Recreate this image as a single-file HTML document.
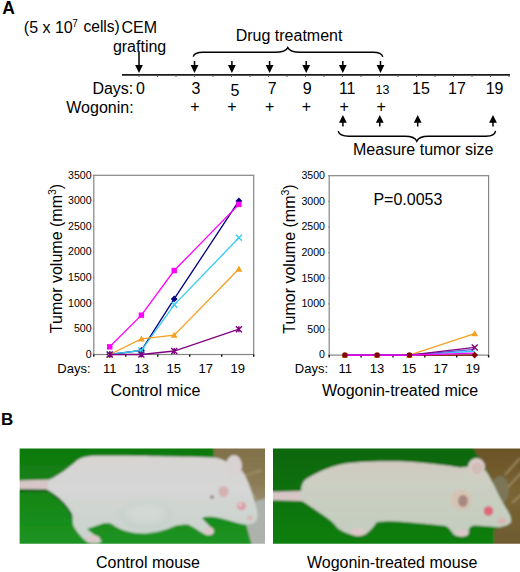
<!DOCTYPE html>
<html><head><meta charset="utf-8">
<style>
html,body{margin:0;padding:0;background:#fff;overflow:hidden;}
svg{display:block;}
text{font-family:"Liberation Sans",sans-serif;fill:#000;}
</style></head>
<body>
<svg width="520" height="572" viewBox="0 0 520 572">
<defs>
<clipPath id="cp1"><rect x="19.6" y="448.4" width="245.4" height="95.4"/></clipPath>
<clipPath id="cp2"><rect x="273" y="448.4" width="247" height="95.4"/></clipPath>
<filter id="bl" x="-5%" y="-5%" width="110%" height="110%"><feGaussianBlur stdDeviation="0.8"/></filter>
<filter id="bs" x="-50%" y="-50%" width="200%" height="200%"><feGaussianBlur stdDeviation="2.5"/></filter>
<linearGradient id="g1" x1="0" y1="0" x2="0" y2="1">
<stop offset="0" stop-color="#0f780f"/><stop offset="0.5" stop-color="#168616"/><stop offset="1" stop-color="#1c9423"/>
</linearGradient>
<linearGradient id="g2" x1="0" y1="0" x2="0" y2="1">
<stop offset="0" stop-color="#086608"/><stop offset="0.5" stop-color="#087208"/><stop offset="1" stop-color="#0c800c"/>
</linearGradient>
<linearGradient id="br1" x1="0" y1="0" x2="0" y2="1">
<stop offset="0" stop-color="#807048"/><stop offset="0.6" stop-color="#8c7c55"/><stop offset="1" stop-color="#9a9278"/>
</linearGradient>
<linearGradient id="br2" x1="0" y1="0" x2="0" y2="1">
<stop offset="0" stop-color="#6a5226"/><stop offset="0.5" stop-color="#7a6535"/><stop offset="1" stop-color="#6e5a30"/>
</linearGradient>
<linearGradient id="body1" x1="0" y1="0" x2="0" y2="1">
<stop offset="0" stop-color="#d8d4d2"/><stop offset="0.35" stop-color="#d6d6d6"/><stop offset="0.75" stop-color="#ccd4ce"/><stop offset="1" stop-color="#c8d4cc"/>
</linearGradient>
<linearGradient id="body2" x1="0" y1="0" x2="0" y2="1">
<stop offset="0" stop-color="#d0cac0"/><stop offset="0.3" stop-color="#cccfc2"/><stop offset="0.7" stop-color="#c6cec0"/><stop offset="1" stop-color="#c2ccbe"/>
</linearGradient>
</defs>
<g clip-path="url(#cp1)">
<g filter="url(#bl)">
<rect x="18" y="446" width="249" height="100" fill="url(#g1)"/>
<rect x="214" y="446" width="53" height="62" fill="url(#br1)"/>
<path d="M238 478 L262 470 M230 470 L258 500" stroke="#a89870" stroke-width="2" opacity="0.6"/>
<path d="M243 505 L267 498 L267 546 L252 546 L246 524 Z" fill="#aeb2ac"/>
<path d="M20 490.3 L49 490.5 C55 494.5 63 501 68 507.5 C71 512 73.5 516 74 522" stroke="#0a5c0a" stroke-width="3" fill="none"/>
<path d="M18 480.5 L52 479.5 L52 489.5 L18 489 Z" fill="#d6c6c6"/>
<path d="M49 479.8 C54 477.5 59 474.5 64 471 C68 468 73 464 77 460.5 C81 457.5 86 456.5 92 456 C110 455.5 150 456 214 457.5 C224 459 236 466 243 472 C248 480 252 492 255 503 C257 510 259 516 256 521 C253 524 248 525 244 524.5 C236 523 226 519 214 517 C208 516.5 204 517 202 518 C205 522 210 526 213 530 C215 534 211 536 206 535 C200 532 194 527 188 524.5 C182 524.5 178 525 175 526 C168 529 160 532 145 533.5 C132 533.5 120 530 113 525 C110 522.5 106 522.5 100 524.5 C95 526 90 528 87 529 C92 533 98 538 102 541 C100 544 92 544 87 542 C82 538 77 532 74 527 C72 522 73 518 72 514 C69 508 64 502 58 497 C54 494 50 491 47 489.5 Z" fill="url(#body1)"/>
<ellipse cx="146" cy="516" rx="27" ry="15" fill="#c8d2cc" filter="url(#bs)"/><ellipse cx="146" cy="513" rx="20" ry="10" fill="#d2d8d4" filter="url(#bs)"/>
<ellipse cx="234" cy="466" rx="8" ry="11" fill="#d8d2d2"/>
<ellipse cx="223.5" cy="491.5" rx="5" ry="5.5" fill="#d4b0b0"/>
<ellipse cx="212" cy="497" rx="2" ry="1.5" fill="#907070"/>
<ellipse cx="241.5" cy="506" rx="4.5" ry="4" fill="#dc9aa4"/>
<circle cx="240.5" cy="505" r="1.4" fill="#f0e0e0"/>
<ellipse cx="250" cy="518" rx="3" ry="2.5" fill="#d8b8b8"/>
<ellipse cx="209" cy="531" rx="5" ry="4" fill="#dcc8c8"/>
<ellipse cx="93" cy="539" rx="7" ry="4" fill="#dcc8c8"/>
</g>
</g>
<g clip-path="url(#cp2)">
<g filter="url(#bl)">
<rect x="271" y="446" width="251" height="100" fill="url(#g2)"/>
<path d="M472 446 L522 446 L522 546 L494 546 L494 530 L512 520 L500 495 L486 470 Z" fill="url(#br2)"/>
<ellipse cx="500" cy="490" rx="9" ry="14" fill="#7c7a60" opacity="0.8"/><path d="M505 475 L520 458 M508 487 L522 472 M512 503 L522 494" stroke="#b4a47c" stroke-width="1.6" opacity="0.7"/>
<path d="M271 491.8 L303 491 L303 501 L271 500.3 Z" fill="#d8c6c6"/>
<path d="M301 491.5 C301 487 302 484 304 481 C307 478 312 475.5 320 471.5 C328 468 336 465 345 463.5 C360 461.5 380 461 400 461.2 C420 462 445 465 460 467.5 C470 466 480 466 486 471 C492 480 497 492 503 503 C507 510 512 516 511 522 C509 525 505 526.5 498 527.3 C490 527 483 525.6 474 525.6 C470 526 468 529 469 533 C468 537 460 537 455 535.5 C452 533 450 528 446 526 C436 525 420 523 405 522 C395 521 385 521 377 522 C374 526 370 531 366 534 C360 537 350 535 344 532 C340 530 337 528 335 525 C332 521 326 517 320 513 C314 509 307 504 301 500.5 Z" fill="url(#body2)"/>
<ellipse cx="476.5" cy="467" rx="8.5" ry="9" fill="#d6ccc8"/>
<ellipse cx="477" cy="468" rx="5.5" ry="6" fill="#d2bcb6"/>
<circle cx="461" cy="500" r="10.5" fill="#d4c4b4"/>
<ellipse cx="463" cy="501" rx="5" ry="6" fill="#a88880"/>
<circle cx="488.5" cy="511" r="4.8" fill="#dc6878"/>
<ellipse cx="502" cy="521" rx="4" ry="3" fill="#dcb4b0"/>
<ellipse cx="358" cy="532" rx="8" ry="4" fill="#dcc8c8"/>
<ellipse cx="462" cy="533" rx="6" ry="3.5" fill="#dcc8c8"/>
</g>
</g>

<text x="2.2" y="13.8" font-size="17.5" font-weight="bold">A</text>
<text x="23.8" y="32.5" font-size="16">(5 x 10</text>
<text x="72.3" y="26.6" font-size="10">7</text>
<text x="79.1" y="32.2" font-size="15.6" xml:space="preserve"> cells)</text>
<text x="121.5" y="33.4" font-size="16">CEM</text>
<text x="112.9" y="51.7" font-size="16">grafting</text>
<text font-size="16" x="235.7" y="41.1">Drug treatment</text>
<line x1="122" y1="74.8" x2="510" y2="74.8" stroke="#1a1a1a" stroke-width="1.8"/>
<path d="M139 74.8v2.2 M157.5 74.8v2.2 M176 74.8v2.2 M194.5 74.8v2.2 M213 74.8v2.2 M231.5 74.8v2.2 M250 74.8v2.2 M268.5 74.8v2.2 M287 74.8v2.2 M305.5 74.8v2.2 M324 74.8v2.2 M342.5 74.8v2.2 M361 74.8v2.2 M379.5 74.8v2.2 M398 74.8v2.2 M416.5 74.8v2.2 M435 74.8v2.2 M453.5 74.8v2.2 M472 74.8v2.2 M490.5 74.8v2.2 M509 74.8v2.2" stroke="#555" stroke-width="1"/>
<path d="M193.2 56.6 C194 53.5 197 52.2 203 52.2 L275 52.2 C282.5 52.2 286.6 50.3 287.8 47.6 C289 50.3 293 52.2 300.5 52.2 L373 52.2 C379 52.2 382 53.6 382.8 56.8" stroke="#000" stroke-width="1.4" fill="none"/>
<path d="M338.2 131.2 C339 134.6 342 136.2 349 136.2 L405 136.2 C412 136.2 415.6 138.3 416.8 141.2 C418 138.3 421.6 136.2 428.5 136.2 L486 136.2 C492 136.2 495 134.5 495.6 130.8" stroke="#000" stroke-width="1.4" fill="none"/>
<path d="M138.25 51.2H139.75V65H142.9L139 72.9L135.1 65H138.25Z" fill="#000"/>
<path d="M193.75 61H195.25V65H198.4L194.5 72.9L190.6 65H193.75Z" fill="#000"/>
<path d="M231.15 61H232.65V65H235.8L231.9 72.9L228 65H231.15Z" fill="#000"/>
<path d="M268.85 61H270.35V65H273.5L269.6 72.9L265.7 65H268.85Z" fill="#000"/>
<path d="M305.45 61H306.95V65H310.1L306.2 72.9L302.3 65H305.45Z" fill="#000"/>
<path d="M342.05 61H343.55V65H346.7L342.8 72.9L338.9 65H342.05Z" fill="#000"/>
<path d="M379.75 61H381.25V65H384.4L380.5 72.9L376.6 65H379.75Z" fill="#000"/>
<path d="M342.9 115L346.8 122.7H343.65V126.4H342.15V122.7H339Z" fill="#000"/>
<path d="M379.8 115L383.7 122.7H380.55V126.4H379.05V122.7H375.9Z" fill="#000"/>
<path d="M417.7 115L421.6 122.7H418.45V126.4H416.95V122.7H413.8Z" fill="#000"/>
<path d="M493 115L496.9 122.7H493.75V126.4H492.25V122.7H489.1Z" fill="#000"/>
<text x="140.4" y="93.5" font-size="16" text-anchor="middle">0</text>
<text x="196" y="93.5" font-size="16" text-anchor="middle">3</text>
<text x="234.9" y="96.1" font-size="16" text-anchor="middle">5</text>
<text x="272.3" y="93.5" font-size="16" text-anchor="middle">7</text>
<text x="307.3" y="93.5" font-size="16" text-anchor="middle">9</text>
<text x="347.2" y="93.5" font-size="16" text-anchor="middle">11</text>
<text x="382.5" y="93.5" font-size="12.5" text-anchor="middle">13</text>
<text x="420.9" y="93.5" font-size="16" text-anchor="middle">15</text>
<text x="457" y="93.5" font-size="16" text-anchor="middle">17</text>
<text x="494.6" y="93.5" font-size="16" text-anchor="middle">19</text>
<text x="92.4" y="93.6" font-size="16">Days:</text>
<text x="66.3" y="113" font-size="16">Wogonin:</text>
<text x="194.8" y="111.6" font-size="16" text-anchor="middle">+</text>
<text x="231.9" y="111.6" font-size="16" text-anchor="middle">+</text>
<text x="269.6" y="111.6" font-size="16" text-anchor="middle">+</text>
<text x="306.4" y="111.6" font-size="16" text-anchor="middle">+</text>
<text x="344.1" y="111.6" font-size="16" text-anchor="middle">+</text>
<text x="381.1" y="111.6" font-size="16" text-anchor="middle">+</text>
<text font-size="16" x="353" y="155.1" xml:space="preserve">Measure tumor size</text>
<rect x="93.8" y="175.3" width="159.9" height="179.2" fill="none" stroke="#858585" stroke-width="1.2"/>
<text font-size="10.6" x="91.6" y="357.8" text-anchor="end">0</text>
<text font-size="10.6" x="91.6" y="332.2" text-anchor="end">500</text>
<text font-size="10.6" x="91.6" y="306.6" text-anchor="end">1000</text>
<text font-size="10.6" x="91.6" y="281" text-anchor="end">1500</text>
<text font-size="10.6" x="91.6" y="255.4" text-anchor="end">2000</text>
<text font-size="10.6" x="91.6" y="229.8" text-anchor="end">2500</text>
<text font-size="10.6" x="91.6" y="204.2" text-anchor="end">3000</text>
<text font-size="10.6" x="91.6" y="178.6" text-anchor="end">3500</text>
<path d="M92.8 354.5H93.8 M92.8 328.9H93.8 M92.8 303.3H93.8 M92.8 277.7H93.8 M92.8 252.1H93.8 M92.8 226.5H93.8 M92.8 200.9H93.8 M92.8 175.3H93.8" stroke="#858585" stroke-width="1.2" fill="none"/>
<path d="M93.8 354.5V356.8 M125.78 354.5V356.8 M157.76 354.5V356.8 M189.74 354.5V356.8 M221.72 354.5V356.8 M253.7 354.5V356.8" stroke="#111" stroke-width="1.4" fill="none"/>
<text x="109.79" y="373" font-size="13" text-anchor="middle">11</text>
<text x="141.77" y="373" font-size="13" text-anchor="middle">13</text>
<text x="173.75" y="373" font-size="13" text-anchor="middle">15</text>
<text x="205.73" y="373" font-size="13" text-anchor="middle">17</text>
<text x="237.71" y="373" font-size="13" text-anchor="middle">19</text>
<text x="57.3" y="373" font-size="13">Days:</text>
<text transform="translate(62,258.5) rotate(-90)" font-size="16" text-anchor="middle">Tumor volume (mm<tspan font-size="10.5" dy="-6">3</tspan><tspan dy="6">)</tspan></text>
<text font-size="16" x="155.4" y="395.9" text-anchor="middle">Control mice</text>
<path d="M109.7 354.5 L141.4 350.3 L174.2 298.95 L238.9 200.9" stroke="#000080" stroke-width="1.3" fill="none"/>
<path d="M109.7 351.1L113.1 354.5L109.7 357.9L106.3 354.5Z" fill="#000080"/>
<path d="M141.4 346.9L144.8 350.3L141.4 353.7L138 350.3Z" fill="#000080"/>
<path d="M174.2 295.55L177.6 298.95L174.2 302.35L170.8 298.95Z" fill="#000080"/>
<path d="M238.9 197.5L242.3 200.9L238.9 204.3L235.5 200.9Z" fill="#000080"/>
<path d="M109.7 346.82 L141.4 315.18 L174.2 270.53 L238.9 204.38" stroke="#ff00ff" stroke-width="1.3" fill="none"/>
<rect x="107" y="344.12" width="5.4" height="5.4" fill="#ff00ff"/>
<rect x="138.7" y="312.48" width="5.4" height="5.4" fill="#ff00ff"/>
<rect x="171.5" y="267.83" width="5.4" height="5.4" fill="#ff00ff"/>
<rect x="236.2" y="201.68" width="5.4" height="5.4" fill="#ff00ff"/>
<path d="M109.7 354.5 L141.4 350.4 L174.2 304.84 L238.9 237.76" stroke="#33ccee" stroke-width="1.3" fill="none"/>
<path d="M106.7 351.5L112.7 357.5M112.7 351.5L106.7 357.5" stroke="#33ccee" stroke-width="1.4"/>
<path d="M138.4 347.4L144.4 353.4M144.4 347.4L138.4 353.4" stroke="#33ccee" stroke-width="1.4"/>
<path d="M171.2 301.84L177.2 307.84M177.2 301.84L171.2 307.84" stroke="#33ccee" stroke-width="1.4"/>
<path d="M235.9 234.76L241.9 240.76M241.9 234.76L235.9 240.76" stroke="#33ccee" stroke-width="1.4"/>
<path d="M109.7 354.5 L141.4 338.88 L174.2 335.15 L238.9 269" stroke="#f4a020" stroke-width="1.3" fill="none"/>
<path d="M109.7 351.1L113.1 357.22L106.3 357.22Z" fill="#f4a020"/>
<path d="M141.4 335.48L144.8 341.6L138 341.6Z" fill="#f4a020"/>
<path d="M174.2 331.75L177.6 337.87L170.8 337.87Z" fill="#f4a020"/>
<path d="M238.9 265.6L242.3 271.72L235.5 271.72Z" fill="#f4a020"/>
<path d="M109.7 354.5 L141.4 354.5 L174.2 351.02 L238.9 329.16" stroke="#800080" stroke-width="1.3" fill="none"/>
<path d="M106.7 351.5L112.7 357.5M112.7 351.5L106.7 357.5M109.7 351.5V357.5" stroke="#800080" stroke-width="1.4"/>
<path d="M138.4 351.5L144.4 357.5M144.4 351.5L138.4 357.5M141.4 351.5V357.5" stroke="#800080" stroke-width="1.4"/>
<path d="M171.2 348.02L177.2 354.02M177.2 348.02L171.2 354.02M174.2 348.02V354.02" stroke="#800080" stroke-width="1.4"/>
<path d="M235.9 326.16L241.9 332.16M241.9 326.16L235.9 332.16M238.9 326.16V332.16" stroke="#800080" stroke-width="1.4"/>
<rect x="329.2" y="175.7" width="159.4" height="179.4" fill="none" stroke="#858585" stroke-width="1.2"/>
<text font-size="10.6" x="325" y="358.4" text-anchor="end">0</text>
<text font-size="10.6" x="325" y="332.77" text-anchor="end">500</text>
<text font-size="10.6" x="325" y="307.14" text-anchor="end">1000</text>
<text font-size="10.6" x="325" y="281.51" text-anchor="end">1500</text>
<text font-size="10.6" x="325" y="255.89" text-anchor="end">2000</text>
<text font-size="10.6" x="325" y="230.26" text-anchor="end">2500</text>
<text font-size="10.6" x="325" y="204.63" text-anchor="end">3000</text>
<text font-size="10.6" x="325" y="179" text-anchor="end">3500</text>
<path d="M328.2 355.1H329.2 M328.2 329.47H329.2 M328.2 303.84H329.2 M328.2 278.21H329.2 M328.2 252.59H329.2 M328.2 226.96H329.2 M328.2 201.33H329.2 M328.2 175.7H329.2" stroke="#858585" stroke-width="1.2" fill="none"/>
<path d="M329.2 355.1V357.4 M361.08 355.1V357.4 M392.96 355.1V357.4 M424.84 355.1V357.4 M456.72 355.1V357.4 M488.6 355.1V357.4" stroke="#111" stroke-width="1.4" fill="none"/>
<text x="345.14" y="373" font-size="13" text-anchor="middle">11</text>
<text x="377.02" y="373" font-size="13" text-anchor="middle">13</text>
<text x="408.9" y="373" font-size="13" text-anchor="middle">15</text>
<text x="440.78" y="373" font-size="13" text-anchor="middle">17</text>
<text x="472.66" y="373" font-size="13" text-anchor="middle">19</text>
<text x="294.8" y="373" font-size="13">Days:</text>
<text transform="translate(295,259) rotate(-90)" font-size="16" text-anchor="middle">Tumor volume (mm<tspan font-size="10.5" dy="-6">3</tspan><tspan dy="6">)</tspan></text>
<text font-size="16" x="400.1" y="395.9" text-anchor="middle">Wogonin-treated mice</text>
<text x="373.4" y="205.1" font-size="16">P=0.0053</text>
<path d="M344.9 355.1 L377.1 355.1 L409.4 355.1 L474.7 355.1" stroke="#800000" stroke-width="1.3" fill="none"/>
<path d="M344.9 355.1 L377.1 355.1 L409.4 355.1 L474.7 333.57" stroke="#f4a020" stroke-width="1.3" fill="none"/>
<path d="M344.9 351.7L348.3 357.82L341.5 357.82Z" fill="#f4a020"/>
<path d="M377.1 351.7L380.5 357.82L373.7 357.82Z" fill="#f4a020"/>
<path d="M409.4 351.7L412.8 357.82L406 357.82Z" fill="#f4a020"/>
<path d="M474.7 330.17L478.1 336.29L471.3 336.29Z" fill="#f4a020"/>
<path d="M344.9 355.1 L377.1 355.1 L409.4 355.1 L474.7 351.26" stroke="#33ccee" stroke-width="1.3" fill="none"/>
<path d="M344.9 355.1 L377.1 355.1 L409.4 355.1 L474.7 349.46" stroke="#5a5ae0" stroke-width="1.3" fill="none"/>
<path d="M344.9 355.1 L377.1 355.1 L409.4 355.1 L474.7 347.41" stroke="#800080" stroke-width="1.3" fill="none"/>
<path d="M471.7 344.41L477.7 350.41M477.7 344.41L471.7 350.41" stroke="#800080" stroke-width="1.4"/>
<path d="M344.9 355.1 L377.1 355.1 L409.4 355.1 L474.7 353.05" stroke="#ff00ff" stroke-width="1.3" fill="none"/>
<rect x="342.3" y="352.5" width="5.2" height="5.2" rx="1.6" fill="#800000"/>
<rect x="374.5" y="352.5" width="5.2" height="5.2" rx="1.6" fill="#800000"/>
<rect x="406.8" y="352.5" width="5.2" height="5.2" rx="1.6" fill="#800000"/>
<path d="M474.7 351.7L478.1 355.1L474.7 358.5L471.3 355.1Z" fill="#800000"/>
<text x="0.9" y="425.4" font-size="17" font-weight="bold">B</text>
<text x="148" y="568.4" font-size="16" text-anchor="middle">Control mouse</text>
<text x="392.2" y="568.4" font-size="16" text-anchor="middle">Wogonin-treated mouse</text>
</svg>
</body></html>
